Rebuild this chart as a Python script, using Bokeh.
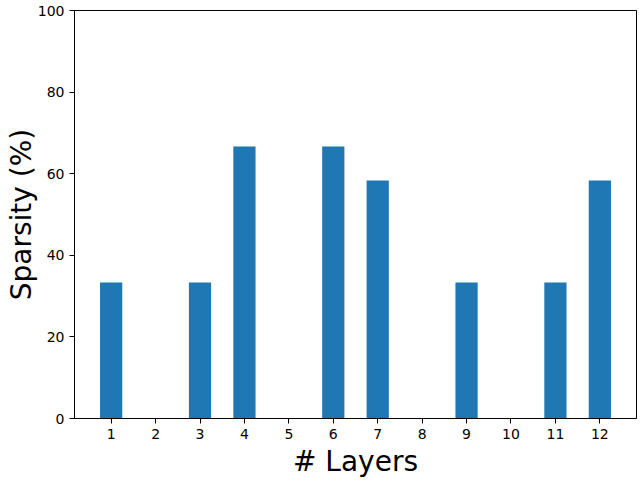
from bokeh.plotting import figure
from bokeh.models import Range1d, FixedTicker, ColumnDataSource
from bokeh.embed import file_html
from bokeh.resources import INLINE

layers = [1, 2, 3, 4, 5, 6, 7, 8, 9, 10, 11, 12]
sparsity = [33.33, 0, 33.33, 66.67, 0, 66.67, 58.33, 0, 33.33, 0, 33.33, 58.33]
y_ticks = [0, 20, 40, 60, 80, 100]

src = ColumnDataSource(data=dict(x=layers, top=sparsity))

p = figure(width=640, height=480, output_backend="svg", toolbar_location=None,
           x_range=Range1d(0.175, 12.825), y_range=Range1d(0, 100),
           min_border_left=74, min_border_right=4, min_border_top=10, min_border_bottom=61)

p.vbar(x="x", top="top", bottom=0, width=0.5, source=src, color="#1f77b4", line_color=None)

p.xgrid.visible = False
p.ygrid.visible = False
p.outline_line_color = "black"
p.outline_line_width = 1
p.outline_line_alpha = 1

p.xaxis.ticker = FixedTicker(ticks=layers)
p.yaxis.ticker = FixedTicker(ticks=y_ticks)
for ax in (p.xaxis, p.yaxis):
    ax.major_label_text_font = "DejaVu Sans"
    ax.major_label_text_font_size = "14px"
    ax.major_label_text_color = "black"
    ax.axis_label_text_font = "DejaVu Sans"
    ax.axis_label_text_font_size = "28px"
    ax.axis_label_text_font_style = "normal"
    ax.axis_label_text_color = "black"
    ax.minor_tick_line_color = None
    ax.major_tick_out = 5
    ax.major_tick_in = 0
    ax.major_tick_line_color = "black"
    ax.axis_line_color = "black"
    ax.major_label_standoff = 5
ax = None
p.yaxis.axis_label_standoff = -3
p.xaxis.axis_label_standoff = 3

p.xaxis.axis_label = "# Layers"
p.yaxis.axis_label = "Sparsity (%)"

open("out.html", "w").write(file_html(p, INLINE))
